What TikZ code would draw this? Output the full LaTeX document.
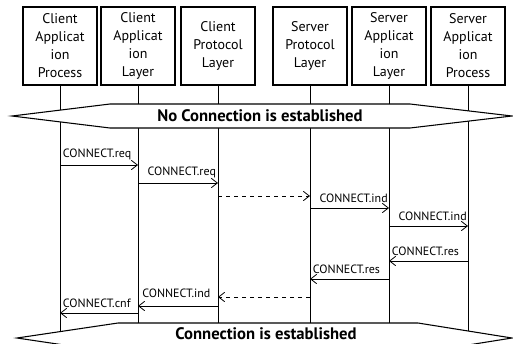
\documentclass[tikz,border=0pt]{standalone}
\usepackage{fontspec}
\setmainfont{PT Sans}
\usetikzlibrary{arrows.meta,positioning}

\begin{document}
\begin{tikzpicture}[x=0.75pt,y=-0.75pt]
\tikzstyle{ent}=[draw, thick, minimum width=55.5pt, minimum height=58.5pt,
  inner sep=1pt, align=center, font=\fontsize{10.5}{13.5}\selectfont]
\tikzstyle{life}=[semithick]
\tikzstyle{msg}=[semithick, -{Straight Barb[length=4.5pt,width=7pt]}]
\tikzstyle{remote}=[msg, dashed]
\tikzstyle{lbl}=[font=\fontsize{9}{10}\selectfont, inner sep=1pt, anchor=south west]
\tikzstyle{banner}=[draw, thick, fill=white]
\tikzstyle{state}=[font=\fontsize{12.5}{14}\selectfont\bfseries, inner sep=0pt]
\clip (0,0) rectangle (513,343);

% entities along the top
\node[ent] (cap) at (60,46) {Client\\Applicat\\ion\\Process};
\node[ent] (cal) at (138,46) {Client\\Applicat\\ion\\Layer};
\node[ent] (cpl) at (218,46) {Client\\Protocol\\Layer};
\node[ent] (spl) at (310,46) {Server\\Protocol\\Layer};
\node[ent] (sal) at (389,46) {Server\\Applicat\\ion\\Layer};
\node[ent] (sap) at (468,46) {Server\\Applicat\\ion\\Process};

% lifelines
\foreach \e in {cap,cal,cpl,spl,sal,sap}
  \draw[life] (\e.south) -- (\e |- 0,345);

% state banners
\draw[banner] (12,116) -- (110,104) -- (410,104) -- (512,116) -- (410,128) -- (110,128) -- cycle;
\node[state] (nocon) at (260,116) {No Connection is established};
\draw[banner] (17,338) -- (118,323) -- (418,323) -- (512,338) -- (418,353) -- (118,353) -- cycle;
\node[state] (con) at (266,334) {Connection is established};

% request / indication
\draw[msg] (cap |- 0,165) coordinate (m1) -- (cal |- 0,165);
\node[lbl] at ([xshift=1pt,yshift=3pt]m1) {CONNECT.req};
\draw[msg] (cal |- 0,183) coordinate (m2) -- (cpl |- 0,183);
\node[lbl] at ([xshift=6pt,yshift=3pt]m2) {CONNECT.req};
\draw[remote] (cpl |- 0,196) -- (spl |- 0,196);
\draw[msg] (spl |- 0,208) coordinate (m4) -- (sal |- 0,208);
\node[lbl] at ([xshift=6pt,yshift=3pt]m4) {CONNECT.ind};
\draw[msg] (sal |- 0,226) coordinate (m5) -- (sap |- 0,226);
\node[lbl] at ([xshift=6pt,yshift=3pt]m5) {CONNECT.ind};

% response / confirmation
\draw[msg] (sap |- 0,261) -- (sal |- 0,261) coordinate (m6);
\node[lbl] at ([xshift=1pt,yshift=3pt]m6) {CONNECT.res};
\draw[msg] (sal |- 0,279) -- (spl |- 0,279) coordinate (m7);
\node[lbl] at ([xshift=1pt,yshift=3pt]m7) {CONNECT.res};
\draw[remote] (spl |- 0,297) -- (cpl |- 0,297);
\draw[msg] (cpl |- 0,306) -- (cal |- 0,306) coordinate (m9);
\node[lbl] at ([xshift=2pt,yshift=5pt]m9) {CONNECT.ind};
\draw[msg] (cal |- 0,313) -- (cap |- 0,313) coordinate (m10);
\node[lbl] at ([xshift=1pt,yshift=3pt]m10) {CONNECT.cnf};
\end{tikzpicture}
\end{document}
